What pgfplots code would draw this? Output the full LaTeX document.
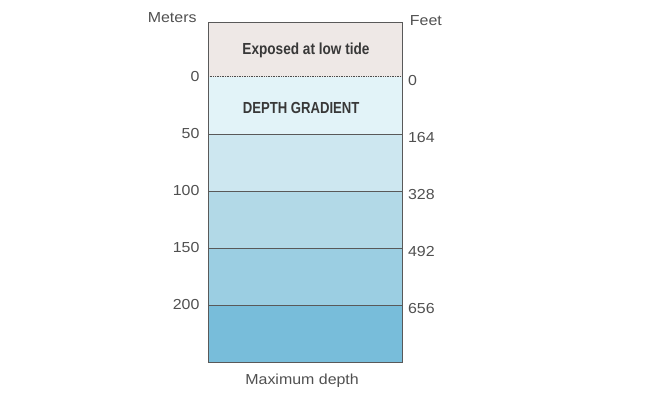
\documentclass[border=0pt]{standalone}
\usepackage{pgfplots}
\pgfplotsset{compat=1.18}
\usepackage{fontspec}
\setmainfont{Liberation Sans}
\definecolor{cexp}{HTML}{EEE8E6}
\definecolor{cb1}{HTML}{E2F3F8}
\definecolor{cb2}{HTML}{CDE7F0}
\definecolor{cb3}{HTML}{B2D9E7}
\definecolor{cb4}{HTML}{9BCEE2}
\definecolor{cb5}{HTML}{78BDDA}
\definecolor{txt}{HTML}{505050}
\newcommand{\lbl}[1]{\scalebox{1.1}[1]{\fontsize{14.5}{16}\selectfont #1}}
\begin{document}
\begin{tikzpicture}
\path[use as bounding box] (0,0) rectangle (650pt,417pt);
\begin{axis}[
  at={(208pt,55pt)}, anchor=south west,
  scale only axis, width=194pt, height=340pt,
  xmin=0, xmax=1, ymin=-48, ymax=250, y dir=reverse,
  xtick=\empty,
  ytick={0,50,100,150,200},
  yticklabels={\lbl{0},\lbl{50},\lbl{100},\lbl{150},\lbl{200}},
  major tick length=0pt,
  yticklabel style={text=txt, xshift=-5pt},
  /pgf/number format/assume math mode=true,
  axis line style={draw=black!65, line width=0.6pt},
  clip=false,
  axis on top,
]
\addplot[fill=cexp, draw=none] coordinates {(0,-48) (1,-48) (1,0) (0,0)} -- cycle;
\addplot[fill=cb1, draw=none] coordinates {(0,0) (1,0) (1,50) (0,50)} -- cycle;
\addplot[fill=cb2, draw=none] coordinates {(0,50) (1,50) (1,100) (0,100)} -- cycle;
\addplot[fill=cb3, draw=none] coordinates {(0,100) (1,100) (1,150) (0,150)} -- cycle;
\addplot[fill=cb4, draw=none] coordinates {(0,150) (1,150) (1,200) (0,200)} -- cycle;
\addplot[fill=cb5, draw=none] coordinates {(0,200) (1,200) (1,250) (0,250)} -- cycle;
\addplot[densely dotted, black!70, line width=0.7pt] coordinates {(0,0) (1,0)};
\addplot[black!65, line width=0.6pt] coordinates {(0,50) (1,50)};
\addplot[black!65, line width=0.6pt] coordinates {(0,100) (1,100)};
\addplot[black!65, line width=0.6pt] coordinates {(0,150) (1,150)};
\addplot[black!65, line width=0.6pt] coordinates {(0,200) (1,200)};
\node[anchor=center, text=black!78] at (axis cs:0.505,-23) {\scalebox{0.85}[1]{\fontsize{16}{18}\selectfont\bfseries Exposed at low tide}};
\node[anchor=center, text=black!78] at (axis cs:0.48,27) {\scalebox{0.82}[1]{\fontsize{16}{18}\selectfont\bfseries DEPTH GRADIENT}};
\foreach \m/\f in {0/0,50/164,100/328,150/492,200/656}{
  \edef\tmp{\noexpand\node[anchor=west, text=txt, inner sep=0pt] at (axis cs:1.03,\m+3) {\noexpand\lbl{\f}};}
  \tmp
}
\node[anchor=east, text=txt, inner sep=0pt] at (axis cs:-0.058,-51.5) {\lbl{Meters}};
\node[anchor=west, text=txt, inner sep=0pt] at (axis cs:1.04,-49) {\lbl{Feet}};
\node[anchor=center, text=txt, inner sep=0pt] at (axis cs:0.485,266) {\lbl{Maximum depth}};
\end{axis}
\end{tikzpicture}
\end{document}
